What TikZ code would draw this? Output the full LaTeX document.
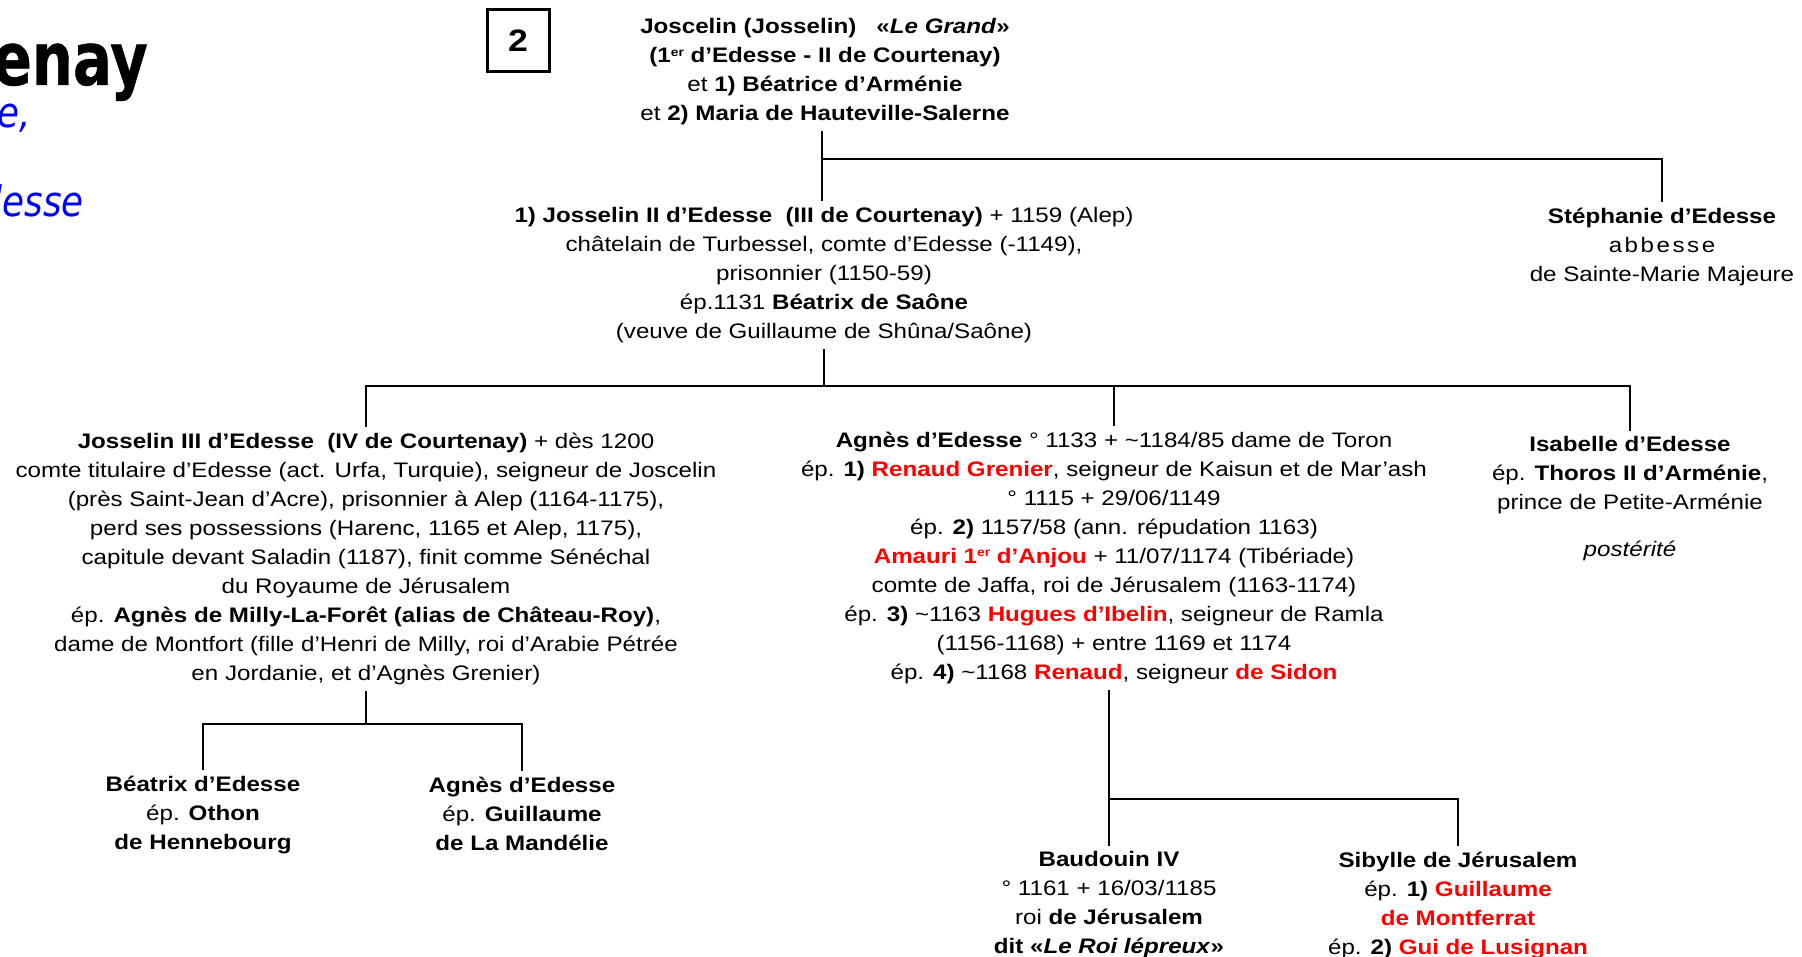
\documentclass[tikz,border=0pt]{standalone}
\usepackage{fontspec}
\setmainfont{Liberation Sans}[FakeStretch=1.15]
\newfontfamily\titlefont{DejaVu Sans}[FakeStretch=0.78,FakeBold=0.6]
\newfontfamily\subtitlefont{DejaVu Sans}[FakeStretch=0.85]
\definecolor{rouge}{RGB}{255,0,0}
\definecolor{bleu}{RGB}{0,0,255}
\newcommand{\rb}[1]{\textbf{\textcolor{rouge}{#1}}}
\newcommand{\tld}{\textasciitilde}
\newcommand{\exposant}[1]{\raisebox{0.6ex}{\fontsize{12}{12}\selectfont #1}}
\begin{document}
\begin{tikzpicture}[x=1pt,y=-1pt,
  person/.style={align=center, inner sep=6pt, font=\fontsize{21}{29}\selectfont},
  link/.style={line width=2.5pt},
  numbox/.style={draw, line width=3pt, minimum width=62pt, minimum height=62pt, inner sep=0pt, font=\fontsize{31}{31}\selectfont\bfseries},
  titre/.style={inner sep=0pt, text depth=0pt, font=\titlefont\fontsize{74}{74}\selectfont\bfseries},
  soustitre/.style={inner sep=0pt, text height=24pt, text=bleu, font=\subtitlefont\fontsize{42}{42}\selectfont\itshape},
]
\useasboundingbox (0,0) rectangle (1802,957);
\clip (0,0) rectangle (1802,957);

% title (cut at the left edge)
\node[titre, anchor=base east] (title) at (148,85) {Courtenay};
\node[soustitre, anchor=base east] (sub1) at (31,128) {Branche cadette,};
\node[soustitre, anchor=base east] (sub2) at (84,217) {comtes d’Edesse};

\node[numbox] (num) at (518,41) {2};

% generation 1
\node[person] (top) at (825,72) {\textbf{Joscelin (Josselin)\ \ \ «\textit{Le Grand}»}\\
  \textbf{(1\exposant{er} d’Edesse - II de Courtenay)}\\
  et \textbf{1) Béatrice d’Arménie}\\
  et \textbf{2) Maria de Hauteville-Salerne}};

% generation 2
\node[person] (j2) at (824,275) {\textbf{1) Josselin II d’Edesse\ \ (III de Courtenay)} + 1159 (Alep)\\
  châtelain de Turbessel, comte d’Edesse (-1149),\\
  prisonnier (1150-59)\\
  ép.1131 \textbf{Béatrix de Saône}\\
  (veuve de Guillaume de Shûna/Saône)};
\node[person] (steph) at (1662,247) {\textbf{Stéphanie d’Edesse}\\
  \addfontfeature{LetterSpace=12}abbesse\\
  de Sainte-Marie Majeure};

% generation 3
\node[person] (j3) at (366,559) {\textbf{Josselin III d’Edesse\ \ (IV de Courtenay)} + dès 1200\\
  comte titulaire d’Edesse (act. Urfa, Turquie), seigneur de Joscelin\\
  (près Saint-Jean d’Acre), prisonnier à Alep (1164-1175),\\
  perd ses possessions (Harenc, 1165 et Alep, 1175),\\
  capitule devant Saladin (1187), finit comme Sénéchal\\
  du Royaume de Jérusalem\\
  ép. \textbf{Agnès de Milly-La-Forêt (alias de Château-Roy)},\\
  dame de Montfort (fille d’Henri de Milly, roi d’Arabie Pétrée\\
  en Jordanie, et d’Agnès Grenier)};
\node[person] (agn) at (1114,558) {\textbf{Agnès d’Edesse} ° 1133 + \tld1184/85 dame de Toron\\
  ép. \textbf{1)} \rb{Renaud Grenier}, seigneur de Kaisun et de Mar’ash\\
  ° 1115 + 29/06/1149\\
  ép. \textbf{2)} 1157/58 (ann. répudation 1163)\\
  \rb{Amauri 1\exposant{er} d’Anjou} + 11/07/1174 (Tibériade)\\
  comte de Jaffa, roi de Jérusalem (1163-1174)\\
  ép. \textbf{3)} \tld1163 \rb{Hugues d’Ibelin}, seigneur de Ramla\\
  (1156-1168) + entre 1169 et 1174\\
  ép. \textbf{4)} \tld1168 \rb{Renaud}, seigneur \rb{de Sidon}};
\node[person] (isa) at (1630,499) {\textbf{Isabelle d’Edesse}\\
  ép. \textbf{Thoros II d’Arménie},\\
  prince de Petite-Arménie\\[18pt]
  \textit{postérité}};

% generation 4
\node[person] (beat) at (203,815) {\textbf{Béatrix d’Edesse}\\
  ép. \textbf{Othon}\\
  \textbf{de Hennebourg}};
\node[person] (agn2) at (522,814) {\textbf{Agnès d’Edesse}\\
  ép. \textbf{Guillaume}\\
  \textbf{de La Mandélie}};
\node[person] (baud) at (1109,905) {\textbf{Baudouin IV}\\
  ° 1161 + 16/03/1185\\
  roi \textbf{de Jérusalem}\\
  \textbf{dit «\textit{Le Roi lépreux}»}};
\node[person] (sib) at (1458,906) {\textbf{Sibylle de Jérusalem}\\
  ép. \textbf{1)} \rb{Guillaume}\\
  \rb{de Montferrat}\\
  ép. \textbf{2)} \rb{Gui de Lusignan}};

% junctions
\coordinate (ja) at (822,159);
\coordinate (jb) at (824,386);
\coordinate (jc) at (366,724);
\coordinate (jd) at (1109,799);

% connectors
\draw[link] (top.south -| ja) -- (j2.north -| ja);
\draw[link] (ja) -| (steph.north);
\draw[link] (j2.south -| jb) -- (jb);
\draw[link] (j3.north) |- (isa.north |- jb) -- (isa.north);
\draw[link] (agn.north |- jb) -- (agn.north);
\draw[link] (j3.south) -- (jc);
\draw[link] (beat.north) |- (agn2.north |- jc) -- (agn2.north);
\draw[link] (agn.south -| jd) -- (baud.north);
\draw[link] (jd) -| (sib.north);
\end{tikzpicture}
\end{document}
